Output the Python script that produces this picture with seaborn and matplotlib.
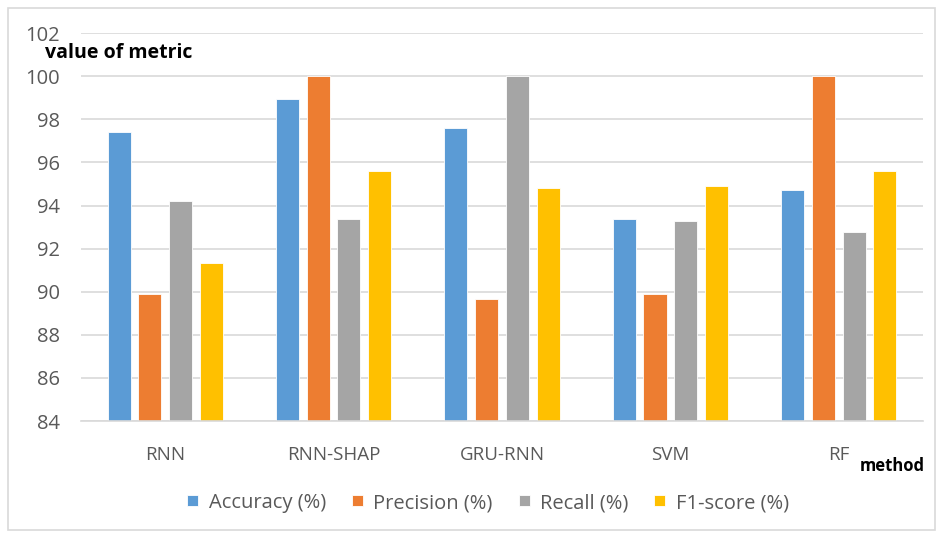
import matplotlib
matplotlib.use("Agg")
import matplotlib.pyplot as plt
from matplotlib.patches import Rectangle
import seaborn as sns
import pandas as pd

methods = ["RNN", "RNN-SHAP", "GRU-RNN", "SVM", "RF"]
metrics = ["Accuracy (%)", "Precision (%)", "Recall (%)", "F1-score (%)"]
accuracy = [97.41, 98.93, 97.58, 93.38, 94.71]
precision = [89.91, 100.0, 89.65, 89.91, 100.0]
recall = [94.19, 93.38, 100.0, 93.29, 92.76]
f1_score = [91.34, 95.61, 94.80, 94.90, 95.61]
y_ticks = [84, 86, 88, 90, 92, 94, 96, 98, 100, 102]

colors = ["#5B9BD5", "#ED7D31", "#A5A5A5", "#FFC000"]

rows = []
for series_name, vals in zip(metrics, [accuracy, precision, recall, f1_score]):
    for m, v in zip(methods, vals):
        rows.append({"method": m, "metric": series_name, "value": v})
df = pd.DataFrame(rows)

sns.set_theme(style="white")
plt.rcParams["font.family"] = ["Open Sans", "DejaVu Sans"]

fig = plt.figure(figsize=(9.37, 5.33), dpi=100)
ax = fig.add_axes([0.0864, 0.210, 0.8986, 0.728])

sns.barplot(data=df, x="method", y="value", hue="metric", order=methods,
            hue_order=metrics, palette=colors, width=0.73, gap=0.25,
            saturation=1, ax=ax, edgecolor="white", linewidth=0.6)

ax.set_ylim(84, 102)
ax.set_yticks(y_ticks)
ax.set_yticklabels([str(t) for t in y_ticks], color="#595959", fontsize=14.5)
ax.tick_params(axis="x", colors="#595959", labelsize=13.5, length=0, pad=18)
ax.tick_params(axis="y", length=0, pad=15)
ax.yaxis.grid(True, color="#D9D9D9", linewidth=1.2)
ax.set_axisbelow(True)
for side in ["top", "right", "left"]:
    ax.spines[side].set_visible(False)
ax.spines["bottom"].set_color("#D9D9D9")
ax.spines["bottom"].set_linewidth(1.2)
ax.set_xlabel("")
ax.set_ylabel("")

fig.text(45 / 937, 1 - 53 / 533, "value of metric", fontsize=14, fontweight="bold",
         color="black", ha="left", va="center")
fig.text(925 / 937, 1 - 466 / 533, "method", fontsize=12, fontweight="bold",
         color="black", ha="right", va="center")

handles, labels = ax.get_legend_handles_labels()
ax.legend(handles, labels, loc="center", bbox_to_anchor=(488 / 937, 1 - 503 / 533),
          bbox_transform=fig.transFigure, ncol=4, frameon=False, fontsize=14.5,
          handlelength=0.55, handleheight=0.45, handletextpad=0.5, columnspacing=1.3,
          labelcolor="#595959")

fig.patches.append(Rectangle((8 / 937, 3 / 533), 927 / 937, 522 / 533,
                             transform=fig.transFigure, fill=False,
                             edgecolor="#D9D9D9", linewidth=1.2))

fig.savefig("out.png", dpi=100)
